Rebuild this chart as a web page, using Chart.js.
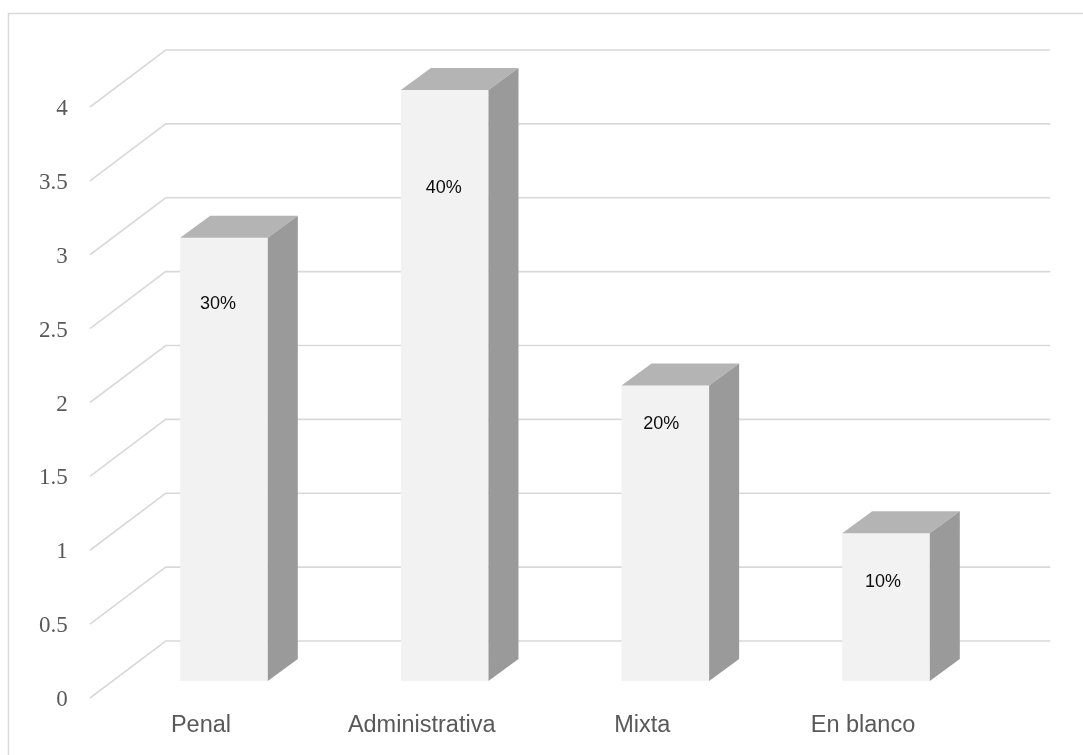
<!DOCTYPE html>
<html>
<head>
<meta charset="utf-8">
<script src="https://cdn.jsdelivr.net/npm/chart.js@4/dist/chart.umd.min.js"></script>
<style>
  html, body { margin: 0; padding: 0; background: #ffffff; }
  #wrap { width: 1083px; height: 755px; position: relative; overflow: hidden; }
  canvas { display: block; }
</style>
</head>
<body>
<div id="wrap"><canvas id="c" width="1083" height="755"></canvas></div>
<script>
// ---- data ----
const categories = ['Penal', 'Administrativa', 'Mixta', 'En blanco'];
const counts = [3, 4, 2, 1];
const percentLabels = ['30%', '40%', '20%', '10%'];
const yTicks = [0, 0.5, 1, 1.5, 2, 2.5, 3, 3.5, 4];

// ---- 3D look plugin ----
const threeD = {
  id: 'threeD',
  beforeDraw(chart, args, o) {
    const ctx = chart.ctx;
    ctx.save();
    ctx.strokeStyle = o.frameColor;
    ctx.lineWidth = 1.5;
    ctx.strokeRect(8.5, 13.5, 3000, 3000);
    ctx.restore();
  },
  beforeDatasetsDraw(chart, args, o) {
    const { ctx, chartArea: a, scales: { y } } = chart;
    ctx.save();
    ctx.strokeStyle = o.gridColor;
    ctx.lineWidth = 1.6;
    yTicks.forEach(v => {
      const py = y.getPixelForValue(v);
      ctx.beginPath();
      ctx.moveTo(a.left + o.floorFront.dx, py + o.floorFront.dy);
      ctx.lineTo(a.left + o.wall.dxL, py + o.wall.dy);
      ctx.lineTo(a.right + o.wall.dxR, py + o.wall.dy);
      ctx.stroke();
    });
    ctx.restore();
  },
  afterDatasetsDraw(chart, args, o) {
    const ctx = chart.ctx;
    const meta = chart.getDatasetMeta(0);
    ctx.save();
    meta.data.forEach((bar, i) => {
      const l = bar.x - bar.width / 2, r = bar.x + bar.width / 2;
      const t = bar.y, b = bar.base, dx = o.depth.dx, dy = o.depth.dy;
      // top face
      ctx.fillStyle = o.topColor;
      ctx.beginPath();
      ctx.moveTo(l, t); ctx.lineTo(l + dx, t - dy); ctx.lineTo(r + dx, t - dy); ctx.lineTo(r, t);
      ctx.closePath(); ctx.fill();
      // side face
      ctx.fillStyle = o.sideColor;
      ctx.beginPath();
      ctx.moveTo(r, t); ctx.lineTo(r + dx, t - dy); ctx.lineTo(r + dx, b - dy); ctx.lineTo(r, b);
      ctx.closePath(); ctx.fill();
      // data label
      ctx.fillStyle = o.labelColor;
      ctx.font = '18px "Liberation Sans", Arial, sans-serif';
      ctx.textAlign = 'center';
      ctx.textBaseline = 'middle';
      ctx.fillText(percentLabels[i], bar.x + o.labelShift[i][0], t + o.labelShift[i][1]);
    });
    ctx.restore();
  }
};

new Chart(document.getElementById('c'), {
  type: 'bar',
  data: {
    labels: categories,
    datasets: [{
      data: counts,
      backgroundColor: '#f2f2f2',
      borderWidth: 0,
      categoryPercentage: 1,
      barPercentage: 0.397
    }]
  },
  plugins: [threeD],
  options: {
    responsive: false,
    animation: false,
    devicePixelRatio: 1,
    layout: { padding: { left: 0, right: 86.67, top: 90, bottom: 0 } },
    plugins: {
      legend: { display: false },
      tooltip: { enabled: false },
      threeD: {
        frameColor: '#d9d9d9',
        gridColor: '#d9d9d9',
        topColor: '#b4b4b4',
        sideColor: '#9a9a9a',
        labelColor: '#0d0d0d',
        depth: { dx: 30, dy: 22 },
        floorFront: { dx: -23.7, dy: 17 },
        wall: { dxL: 52, dxR: 54, dy: -40 },
        labelShift: [[-6, 66], [-1, 98], [-4, 39], [-3, 49]]
      }
    },
    scales: {
      x: {
        grid: { display: false, drawTicks: false },
        border: { display: false },
        ticks: {
          font: { family: '"Liberation Sans", Arial, sans-serif', size: 23.5 },
          color: '#595959',
          padding: 30,
          labelOffset: -23,
          maxRotation: 0,
          autoSkip: false
        },
        afterFit(s) { s.height = 74; }
      },
      y: {
        min: 0,
        max: 4,
        afterBuildTicks(s) { s.ticks = yTicks.map(v => ({ value: v })); },
        grid: { display: false, drawTicks: false },
        border: { display: false },
        ticks: {
          font: { family: '"Liberation Serif", "Times New Roman", serif', size: 23 },
          color: '#595959',
          padding: 46,
          labelOffset: 19,
          callback: v => String(v)
        },
        afterFit(s) { s.width = 113.67; }
      }
    }
  }
});
</script>
</body>
</html>
